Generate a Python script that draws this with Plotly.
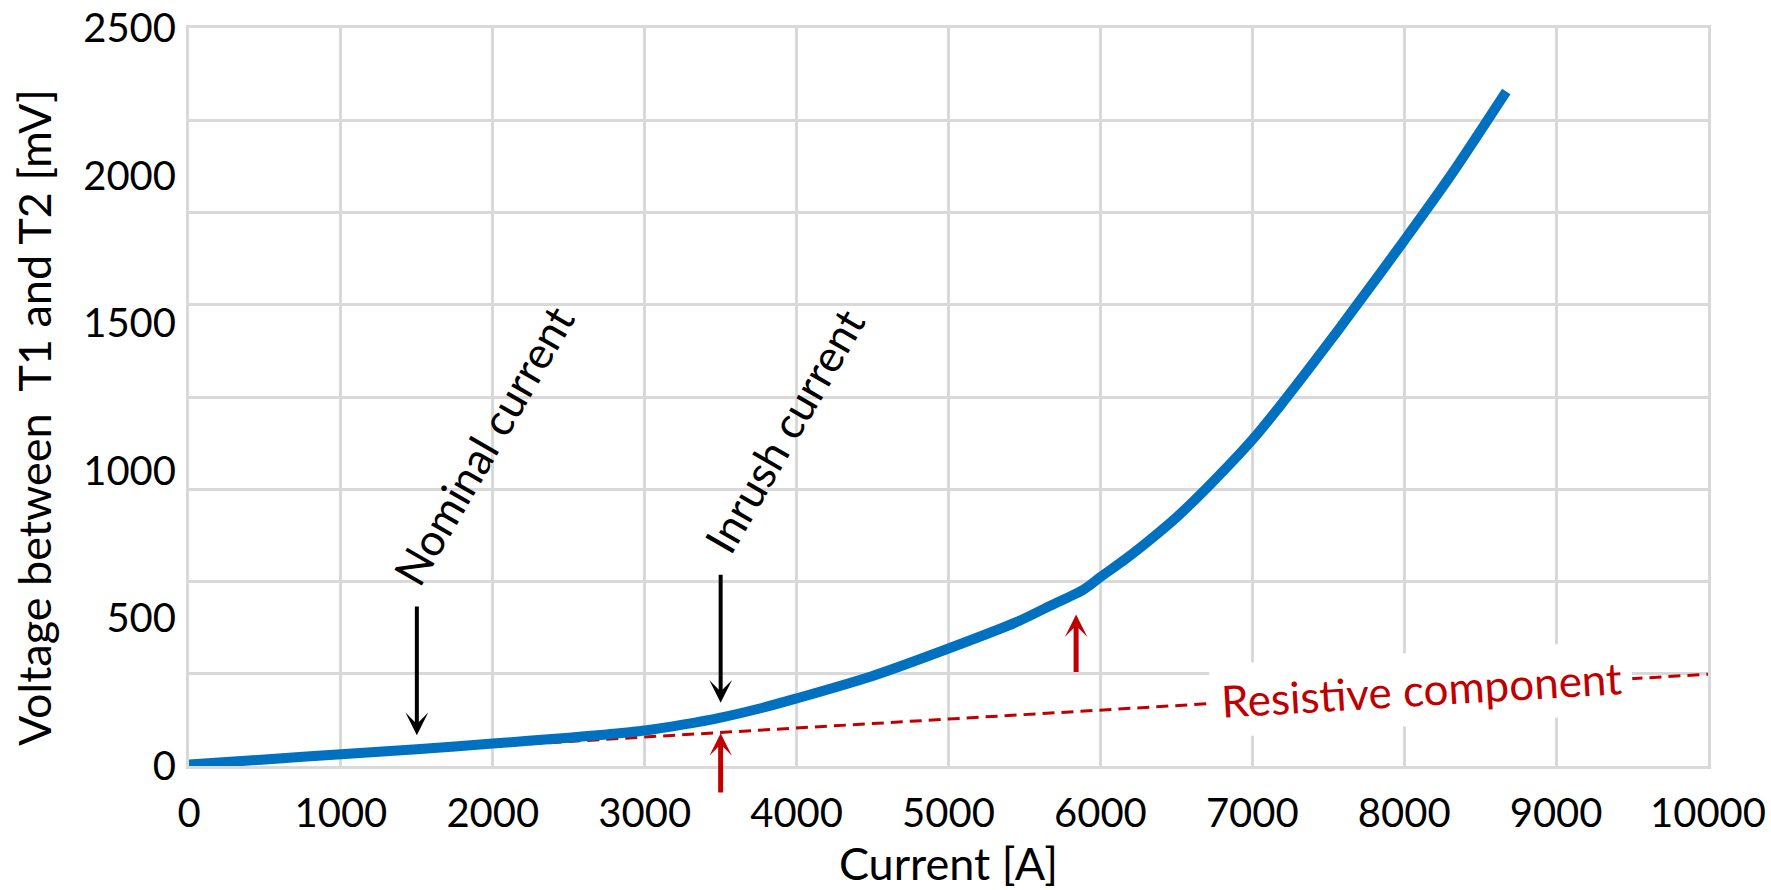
import plotly.graph_objects as go

# ---- data ----
current_a = [0, 500, 1000, 1500, 2000, 2500, 2750, 3000, 3250, 3500, 3750, 4000, 4500, 5000,
             5450, 5670, 5890, 6000, 6170, 6330, 6500, 6720, 7000, 7206, 7450, 7667,
             8000, 8303, 8672]
voltage_mv = [5, 22, 40, 57, 76, 96, 107, 120, 140, 164, 194, 229, 305, 398,
              488, 543, 598, 640, 703, 768, 842, 952, 1105, 1235, 1398, 1547,
              1780, 1998, 2285]

resistive_x = [0, 10000]
resistive_y = [7, 311]

x_ticks = [0, 1000, 2000, 3000, 4000, 5000, 6000, 7000, 8000, 9000, 10000]
y_ticks = [0, 500, 1000, 1500, 2000, 2500]
y_grid = [0, 312.5, 625, 937.5, 1250, 1562.5, 1875, 2187.5, 2500]

# markers: (x, tail_y, tip_y)
nominal_arrow = (1500, 545, 104)
inrush_arrow = (3500, 653, 214)
red_arrow_low = (3500, -95, 111)
red_arrow_high = (5840, 313, 513)

FONT = "Lato"
BLUE = "#0070C0"
RED = "#C00000"
GRID = "#D9D9D9"

fig = go.Figure()

fig.add_trace(go.Scatter(
    x=resistive_x, y=resistive_y, mode="lines",
    line=dict(color=RED, width=3, dash="12px,7px"),
    hoverinfo="skip", showlegend=False,
))
fig.add_trace(go.Scatter(
    x=current_a, y=voltage_mv, mode="lines",
    line=dict(color=BLUE, width=10, shape="spline", smoothing=0.8),
    showlegend=False,
))


def arrow(spec, color, width, size):
    x, y0, y1 = spec
    fig.add_annotation(
        x=x, y=y1, ax=x, ay=y0, xref="x", yref="y", axref="x", ayref="y",
        text="", showarrow=True, arrowhead=3, arrowsize=size,
        arrowwidth=width, arrowcolor=color, standoff=0, startstandoff=0,
    )


arrow(nominal_arrow, "black", 4, 0.95)
arrow(inrush_arrow, "black", 4, 0.95)
arrow(red_arrow_low, RED, 5, 0.75)
arrow(red_arrow_high, RED, 5, 0.75)

fig.add_annotation(
    x=1938, y=1087, xref="x", yref="y", text="Nominal current",
    showarrow=False, textangle=-60,
    font=dict(family=FONT, size=44, color="black"),
)
fig.add_annotation(
    x=3920, y=1137, xref="x", yref="y", text="Inrush current",
    showarrow=False, textangle=-60,
    font=dict(family=FONT, size=44, color="black"),
)
fig.add_annotation(
    x=8112, y=260, xref="x", yref="y", text="Resistive component",
    showarrow=False, textangle=-3.4, bgcolor="white", borderpad=10,
    font=dict(family=FONT, size=44, color=RED),
)

# y-axis title (placed slightly below the plot centre, as in the reference)
fig.add_annotation(
    x=-0.102, y=0.4715, xref="paper", yref="paper",
    xanchor="center", yanchor="middle",
    text="Voltage between\u00a0 T1 and T2 [mV]", textangle=-90, showarrow=False,
    font=dict(family=FONT, size=45, color="black"),
)

fig.update_layout(
    width=1771, height=890,
    margin=dict(l=189, r=63, t=28, b=124, pad=0),
    paper_bgcolor="white", plot_bgcolor="white",
    font=dict(family=FONT, color="black"),
    showlegend=False,
    xaxis=dict(
        range=[0, 10000], tickvals=x_ticks, ticktext=[str(v) for v in x_ticks],
        showgrid=True, gridcolor=GRID, gridwidth=3,
        showline=True, linecolor=GRID, linewidth=3, mirror=True,
        zeroline=False, ticks="", tickfont=dict(family=FONT, size=40),
        ticklabelstandoff=10, automargin=False,
        title=dict(text="Current [A]", font=dict(family=FONT, size=45), standoff=20),
    ),
    yaxis=dict(
        range=[0, 2500], tickvals=y_ticks, ticktext=[str(v) for v in y_ticks],
        showgrid=False,
        minor=dict(tickvals=y_grid, showgrid=True, gridcolor=GRID, gridwidth=3, ticks=""),
        showline=True, linecolor=GRID, linewidth=3, mirror=True,
        zeroline=False, ticks="", tickfont=dict(family=FONT, size=40),
        ticklabelstandoff=2, automargin=False,
    ),
)

fig.write_html("out.html", config={"displayModeBar": False},
               post_script="document.body.style.margin='0';")
